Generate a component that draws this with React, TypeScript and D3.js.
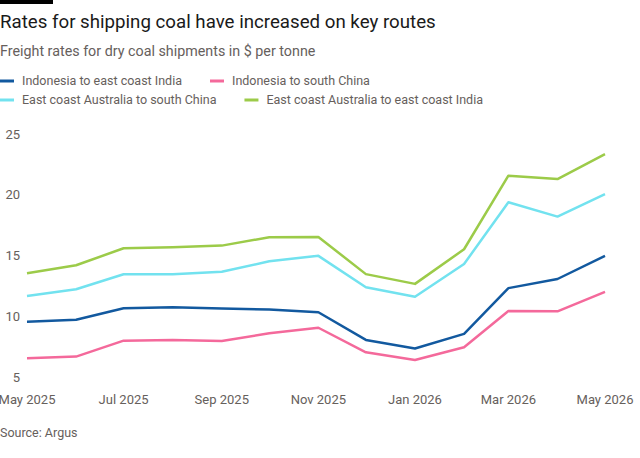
import React, { useEffect, useRef } from 'react';
import * as d3 from 'd3';

// monthly observations, May 2025 to May 2026
const months = ['2025-05', '2025-06', '2025-07', '2025-08', '2025-09', '2025-10', '2025-11', '2025-12', '2026-01', '2026-02', '2026-03', '2026-04', '2026-05'];

const indonesiaIndia = [9.6, 9.75, 10.7, 10.78, 10.67, 10.6, 10.37, 8.1, 7.4, 8.6, 12.35, 13.1, 15.0];
const indonesiaChina = [6.6, 6.73, 8.04, 8.1, 8.01, 8.64, 9.1, 7.08, 6.45, 7.5, 10.48, 10.45, 12.05];
const australiaChina = [11.7, 12.26, 13.49, 13.5, 13.7, 14.55, 15.0, 12.42, 11.65, 14.33, 19.4, 18.22, 20.06];
const australiaIndia = [13.57, 14.23, 15.62, 15.7, 15.84, 16.53, 16.55, 13.5, 12.7, 15.54, 21.58, 21.3, 23.34];

const seriesNames = [
    'Indonesia to east coast India',
    'Indonesia to south China',
    'East coast Australia to south China',
    'East coast Australia to east coast India',
];
const seriesColors = ['#12599f', '#f4699b', '#72e2ef', '#9ccb49'];

const yTicks = [5, 10, 15, 20, 25];
const xTickMonths = ['2025-05', '2025-07', '2025-09', '2025-11', '2026-01', '2026-03', '2026-05'];

const W = 640;
const H = 458;
const FONT = 'Roboto, "Noto Sans", sans-serif';
const GREY = '#66605c';

const parseMonth = d3.timeParse('%Y-%m');

const LineChart = () => {
    const ref = useRef<SVGSVGElement>(null);

    useEffect(() => {
        if (!ref.current) return;
        const svg = d3.select(ref.current);
        svg.selectAll('*').remove();

        svg.append('rect').attr('width', W).attr('height', H).attr('fill', '#ffffff');

        // little black flag top left
        svg.append('rect').attr('x', 0).attr('y', 0).attr('width', 53).attr('height', 4).attr('fill', '#000');

        svg.append('text')
            .attr('x', 0).attr('y', 28)
            .attr('font-size', 18.7)
            .attr('fill', '#1a1a1a')
            .text('Rates for shipping coal have increased on key routes');

        svg.append('text')
            .attr('x', 0).attr('y', 56)
            .attr('font-size', 14.3)
            .attr('fill', GREY)
            .text('Freight rates for dry coal shipments in $ per tonne');

        // legend, two rows, items flow left to right
        const rows = [[0, 1], [2, 3]];
        rows.forEach((row, ri) => {
            let cx = 0;
            const cy = 81 + ri * 19;
            row.forEach(si => {
                const g = svg.append('g').attr('transform', `translate(${cx},${cy})`);
                g.append('line')
                    .attr('x1', 0).attr('x2', 14)
                    .attr('stroke', seriesColors[si]).attr('stroke-width', 3);
                const t = g.append('text')
                    .attr('x', 22).attr('dy', '0.35em')
                    .attr('font-size', 12.5)
                    .attr('fill', GREY)
                    .text(seriesNames[si]);
                const tw = (t.node() as SVGTextElement).getComputedTextLength();
                cx += 22 + tw + 28;
            });
        });

        const x = d3.scaleTime()
            .domain([parseMonth(months[0])!, parseMonth(months[months.length - 1])!])
            .range([27, 605]);
        const y = d3.scaleLinear().domain([5, 25]).range([377.7, 134]);

        // y labels
        svg.append('g').selectAll('text')
            .data(yTicks)
            .join('text')
            .attr('x', 20).attr('y', d => y(d))
            .attr('dy', '0.35em')
            .attr('text-anchor', 'end')
            .attr('font-size', 13)
            .attr('fill', GREY)
            .text(d => d);

        // x labels
        const fmt = d3.timeFormat('%b %Y');
        svg.append('g').selectAll('text')
            .data(xTickMonths)
            .join('text')
            .attr('x', d => x(parseMonth(d)!))
            .attr('y', 399)
            .attr('dy', '0.35em')
            .attr('text-anchor', 'middle')
            .attr('font-size', 13)
            .attr('fill', GREY)
            .text(d => fmt(parseMonth(d)!));

        const allSeries = [indonesiaIndia, indonesiaChina, australiaChina, australiaIndia];
        const line = d3.line<number>()
            .x((_, i) => x(parseMonth(months[i])!))
            .y(d => y(d));

        allSeries.forEach((vals, i) => {
            svg.append('path')
                .datum(vals)
                .attr('d', line)
                .attr('fill', 'none')
                .attr('stroke', seriesColors[i])
                .attr('stroke-width', 2.5)
                .attr('stroke-linejoin', 'round');
        });

        svg.append('text')
            .attr('x', 0).attr('y', 433)
            .attr('dy', '0.35em')
            .attr('font-size', 12.5)
            .attr('fill', GREY)
            .text('Source: Argus');
    }, []);

    return (
        <svg
            ref={ref}
            width={W}
            height={H}
            fontFamily={FONT}
            style={{ position: 'absolute', left: 0, top: 0, display: 'block' }}
        />
    );
};

export default function App() {
    return <LineChart />;
}
